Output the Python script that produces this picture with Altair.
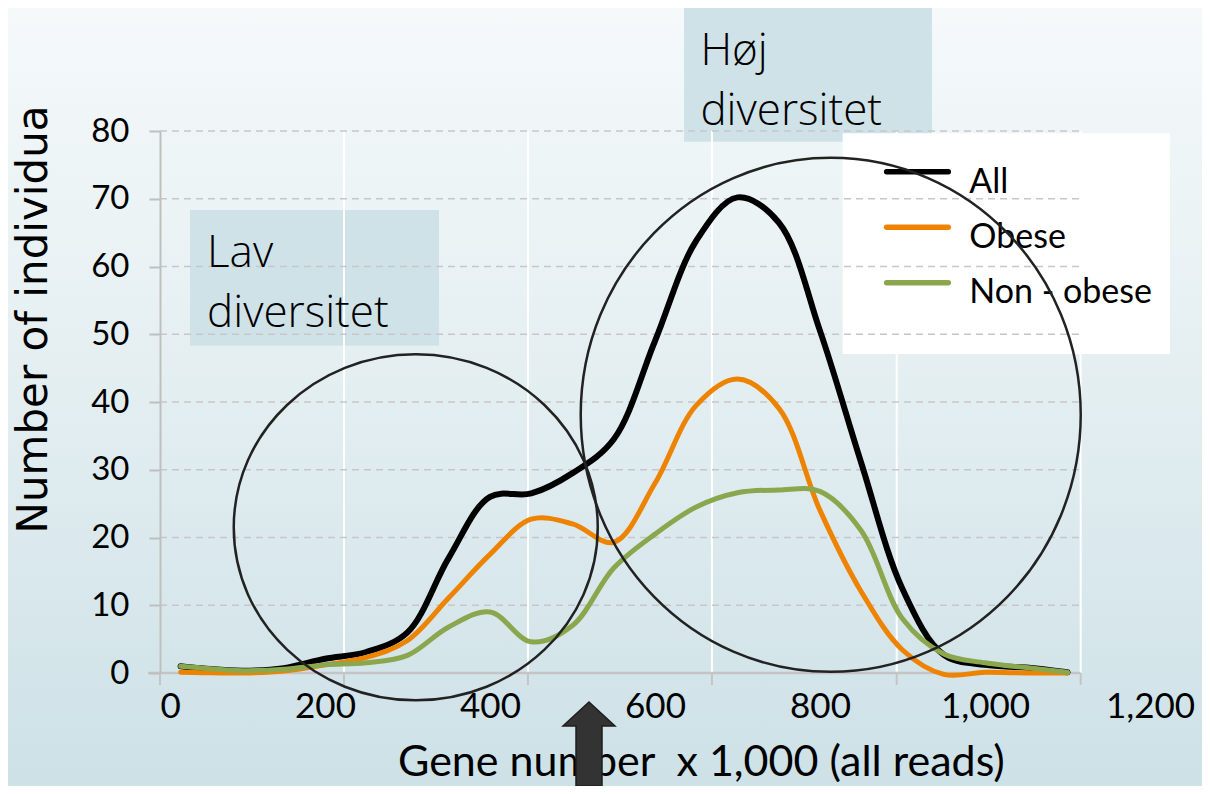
import altair as alt
import pandas as pd

# ---------------- data ----------------
SERIES = ["All", "Obese", "Non - obese"]
COLORS = ["#000000", "#EE8300", "#8BA74E"]
WIDTHS = [6, 5, 5]

X = [25, 50, 100, 150, 200, 250, 300, 350, 400, 450, 500, 550, 600, 650, 700,
     750, 800, 850, 900, 950, 1000, 1050, 1100]
ALL = [1.0, 0.7, 0.35, 0.7, 2.1, 3.1, 6.0, 17.0, 26.0, 26.5, 29.5, 34.5, 49.0,
       63.8, 70.2, 66.5, 50.5, 31.0, 12.4, 2.7, 1.2, 0.8, 0.1]
OBESE = [0.1, 0.05, 0.0, 0.3, 1.2, 2.3, 4.8, 11.1, 17.5, 22.7, 22.0, 19.3, 28.0,
         39.5, 43.4, 39.1, 24.0, 12.0, 3.4, -0.2, 0.1, 0.0, 0.0]
NONOBESE = [1.0, 0.75, 0.35, 0.55, 1.2, 1.5, 2.6, 6.8, 9.0, 4.6, 7.0, 15.5, 20.5,
            24.5, 26.6, 27.0, 26.8, 21.0, 8.0, 2.8, 1.5, 0.8, 0.1]

X_TICKS = [0, 200, 400, 600, 800, 1000, 1200]
Y_TICKS = [0, 10, 20, 30, 40, 50, 60, 70, 80]
X_TITLE = "Gene number\u00a0\u00a0x 1,000 (all reads)"
Y_TITLE = "Number of individua"

# frame decoration of the original slide (data units)
GRID_X = [223, 446, 669, 893, 1116]
FRAME_X = [-14.5, 1116]

# annotations (data units)
BOX_TEXTS = [["Lav", "diversitet"], ["Høj", "diversitet"]]
BOX_TEXT_X = [57, 655]
BOX_TEXT_Y = [59.97, 89.74]
BOXES_X0 = [36.4, 635.2]
BOXES_X1 = [338.2, 935.8]
BOXES_Y0 = [68.34, 98.3]
BOXES_Y1 = [48.3, 78.4]
LEGEND_BOX = [827.5, 1224.2, 79.66, 47.08]
LEGEND_LINE_X = [880.8, 955.5]
LEGEND_LINE_Y = [74.0, 65.8, 57.6]
LEGEND_TEXT_X = 981
LEGEND_TEXT_Y = [70.8, 62.7, 54.57]
ELLIPSES = [
    (310, 21.5, "M-182,0A182,173 0 1,0 182,0A182,173 0 1,0 -182,0Z"),
    (813, 38.1, "M-250,0A250,257 0 1,0 250,0A250,257 0 1,0 -250,0Z"),
]
ARROW = (520, -10.48, "M0,-42L26,-18L13,-18L13,42L-13,42L-13,-18L-26,-18Z")
X_TITLE_POS = (288.5, -15.2)

W, H = 990, 542

# ---------------- scales & axes ----------------
XSCALE = alt.Scale(domain=[0, 1200], nice=False, zero=False)
YSCALE = alt.Scale(domain=[0, 80], nice=False, zero=False)
XAXIS = alt.Axis(values=X_TICKS, format=",d", domain=False, ticks=False, grid=False,
                 labelFont="Lato", labelFontSize=35, labelColor="black",
                 labelPadding=16, labelFlush=False, labelOverlap=False,
                 labelAlign={"condition": {"test": "datum.value === 0", "value": "left"},
                             "value": "center"},
                 title=None, zindex=1)
YAXIS = alt.Axis(values=Y_TICKS, grid=False, domain=True, domainColor="#bfbfbf",
                 domainWidth=2, ticks=True, tickColor="#bfbfbf", tickWidth=2,
                 tickSize=11, labelFont="Lato", labelFontSize=33, labelColor="black",
                 labelPadding=20, labelOverlap=False,
                 title=Y_TITLE, titleFont="DejaVu Sans", titleFontSize=42,
                 titleFontWeight="normal", titleColor="black", titleAngle=270,
                 titleX=-114, titleY=188, titleBaseline="alphabetic",
                 titleAlign="center", zindex=1)
CSCALE = alt.Scale(domain=SERIES, range=COLORS)


def xenc(f):
    return alt.X(f, type="quantitative", scale=XSCALE, axis=XAXIS)


def yenc(f):
    return alt.Y(f, type="quantitative", scale=YSCALE, axis=YAXIS)


layers = []

# background gradient of the slide
bg = alt.Chart(pd.DataFrame({"a": [0]})).mark_rect(
    fill=alt.Gradient(gradient="linear",
                      stops=[alt.GradientStop(color="#f5f9fa", offset=0),
                             alt.GradientStop(color="#e3eef1", offset=0.5),
                             alt.GradientStop(color="#cde1e7", offset=1)],
                      x1=0, x2=0, y1=0, y2=1)
).encode(x=alt.value(-152), x2=alt.value(W + 52), y=alt.value(-123), y2=alt.value(H + 113))
layers.append(bg)

# annotation boxes
boxes = pd.DataFrame({"x0": BOXES_X0, "x1": BOXES_X1, "y0": BOXES_Y0, "y1": BOXES_Y1})
layers.append(alt.Chart(boxes).mark_rect(fill="#cfe2e8").encode(
    x=xenc("x0"), x2="x1", y=yenc("y0"), y2="y1"))

# legend box
lb = pd.DataFrame({"x0": [LEGEND_BOX[0]], "x1": [LEGEND_BOX[1]],
                   "y0": [LEGEND_BOX[2]], "y1": [LEGEND_BOX[3]]})
layers.append(alt.Chart(lb).mark_rect(fill="white").encode(
    x=xenc("x0"), x2="x1", y=yenc("y0"), y2="y1"))

# vertical white grid lines
vg = pd.DataFrame({"gx": GRID_X, "y0": [0] * len(GRID_X), "y1": [80] * len(GRID_X)})
layers.append(alt.Chart(vg).mark_rule(color="white", strokeWidth=2).encode(
    x=xenc("gx"), y=yenc("y0"), y2="y1"))

# horizontal dashed grid lines
hg = pd.DataFrame({"gy": Y_TICKS[1:], "x0": [0] * 8, "x1": [FRAME_X[1]] * 8})
layers.append(alt.Chart(hg).mark_rule(color="#c9c6c9", strokeWidth=1.6,
                                       strokeDash=[7, 5]).encode(
    x=xenc("x0"), x2="x1", y=yenc("gy")))

# x axis line and ticks
xl = pd.DataFrame({"x0": [FRAME_X[0]], "x1": [FRAME_X[1]], "y": [0]})
layers.append(alt.Chart(xl).mark_rule(color="#c4c4c4", strokeWidth=2.5).encode(
    x=xenc("x0"), x2="x1", y=yenc("y")))
xt = pd.DataFrame({"tx": [0] + GRID_X, "y0": [0] * 6, "y1": [-1.77] * 6})
layers.append(alt.Chart(xt).mark_rule(color="#c4c4c4", strokeWidth=2).encode(
    x=xenc("tx"), y=yenc("y0"), y2="y1"))

# data lines
for name, vals, w in zip(SERIES, [ALL, OBESE, NONOBESE], WIDTHS):
    df = pd.DataFrame({"x": X, "y": vals, "series": name})
    layers.append(alt.Chart(df).mark_line(interpolate="catmull-rom", strokeWidth=w,
                                          strokeCap="round", strokeJoin="round").encode(
        x=xenc("x"), y=yenc("y"),
        color=alt.Color("series:N", scale=CSCALE, legend=None)))

# manual legend
leg = pd.DataFrame({"series": SERIES, "x0": [LEGEND_LINE_X[0]] * 3,
                    "x1": [LEGEND_LINE_X[1]] * 3, "y": LEGEND_LINE_Y,
                    "tx": [LEGEND_TEXT_X] * 3, "ty": LEGEND_TEXT_Y})
layers.append(alt.Chart(leg).mark_rule(strokeWidth=5.5, strokeCap="round").encode(
    x=xenc("x0"), x2="x1", y=yenc("y"),
    color=alt.Color("series:N", scale=CSCALE, legend=None)))
layers.append(alt.Chart(leg).mark_text(align="left", baseline="alphabetic", font="Lato",
                                       fontSize=34, color="black").encode(
    x=xenc("tx"), y=yenc("ty"), text="series:N"))

# box texts (two lines each)
bt = pd.DataFrame({"t": BOX_TEXTS, "x": BOX_TEXT_X, "y": BOX_TEXT_Y})
layers.append(alt.Chart(bt).mark_text(align="left", baseline="alphabetic",
                                      font="Open Sans", fontSize=44, fontWeight=300,
                                      lineHeight=60, color="black").encode(
    x=xenc("x"), y=yenc("y"), text="t"))

# x axis title
xtt = pd.DataFrame({"t": [X_TITLE], "x": [X_TITLE_POS[0]], "y": [X_TITLE_POS[1]]})
layers.append(alt.Chart(xtt).mark_text(align="left", baseline="alphabetic", font="Lato",
                                       fontSize=43, color="black").encode(
    x=xenc("x"), y=yenc("y"), text="t:N"))

# ellipses
for ex, ey, path in ELLIPSES:
    e = pd.DataFrame({"x": [ex], "y": [ey]})
    layers.append(alt.Chart(e).mark_point(shape=path, size=4, filled=False,
                                          stroke="#222222", strokeWidth=2.5,
                                          opacity=1).encode(
        x=xenc("x"), y=yenc("y")))

# arrow
a = pd.DataFrame({"x": [ARROW[0]], "y": [ARROW[1]]})
layers.append(alt.Chart(a).mark_point(shape=ARROW[2], size=4, filled=True,
                                      fill="#333333", stroke="#1e1e1e", strokeWidth=1.5,
                                      opacity=1).encode(
    x=xenc("x"), y=yenc("y")))

chart = alt.layer(*layers).properties(
    width=W, height=H,
    padding={"left": 152, "top": 123, "right": 52, "bottom": 113},
    autosize=alt.AutoSizeParams(type="none"),
    background="white",
).configure_view(strokeWidth=0)

chart.save("out.html", embed_options={"renderer": "svg", "actions": False})
